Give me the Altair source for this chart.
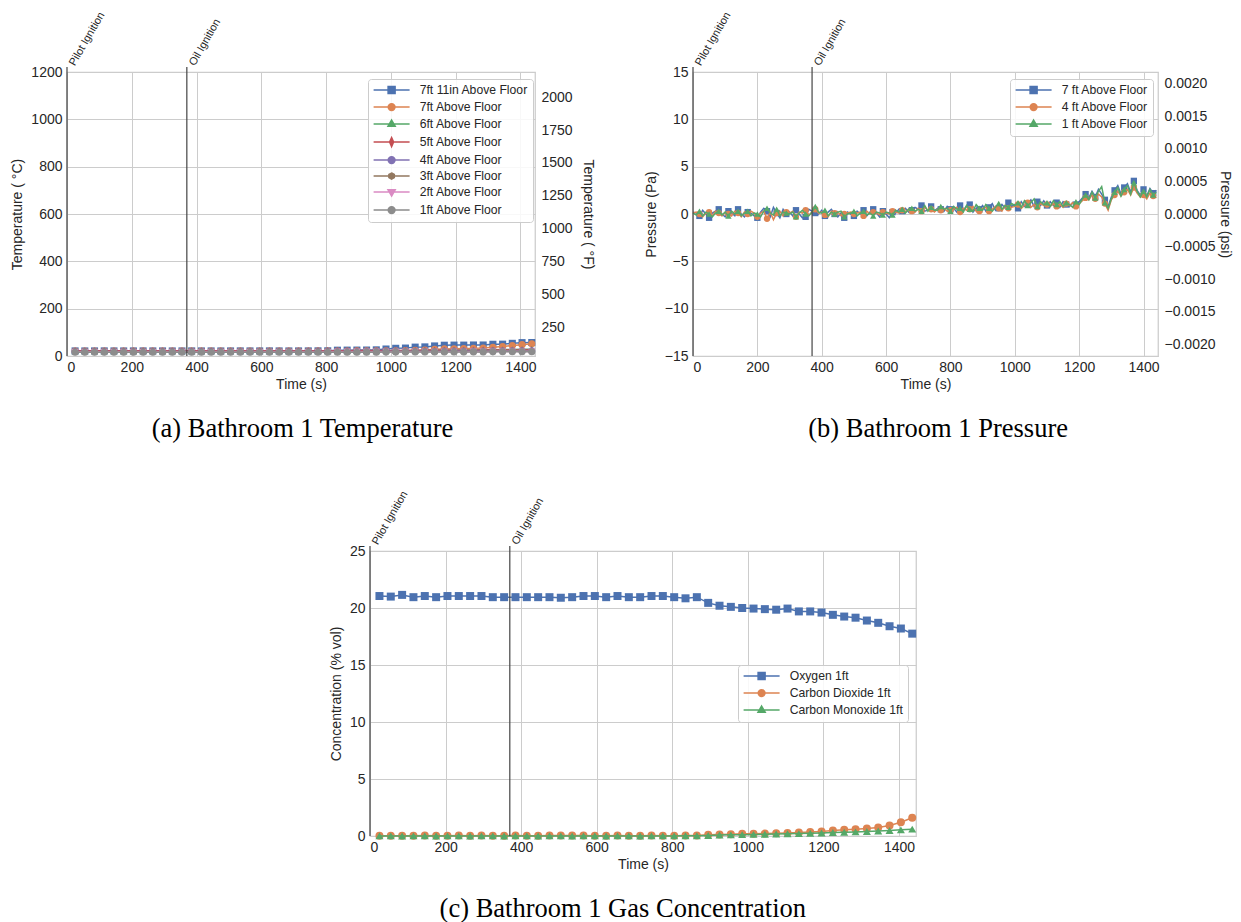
import altair as alt
import pandas as pd

FONT = "Liberation Sans"
SERIF = "Liberation Serif"
GRID = "#cccccc"
INK = "#262626"

PALETTE = ["#4C72B0", "#DD8452", "#55A868", "#C44E52", "#8172B3", "#937860", "#DA8BC3", "#8C8C8C"]

X_DOMAIN = [0, 1445]
X_TICKS = [0, 200, 400, 600, 800, 1000, 1200, 1400]
EVENT_TIMES = [0, 370]
EVENT_LABELS = ["Pilot Ignition", "Oil Ignition"]

# sample times of the plotted markers (s)
TIMES = [25, 55, 85, 115, 145, 175, 205, 235, 265, 295, 325, 355, 385, 415, 445, 475,
         505, 535, 565, 595, 625, 655, 685, 715, 745, 775, 805, 835, 865, 895, 925, 955,
         985, 1015, 1045, 1075, 1105, 1135, 1165, 1195, 1225, 1255, 1285, 1315, 1345,
         1375, 1405, 1435]

# ---------------- Temperature (deg C) ----------------
TEMP_NAMES = ["7ft 11in Above Floor", "7ft Above Floor", "6ft Above Floor", "5ft Above Floor",
              "4ft Above Floor", "3ft Above Floor", "2ft Above Floor", "1ft Above Floor"]
T_7FT11IN = [21.5, 21.4, 21.5, 21.6, 21.5, 21.4, 21.5, 21.6, 21.5, 21.5,
             21.4, 21.5, 21.6, 21.5, 21.5, 21.4, 21.5, 21.6, 21.5, 21.5,
             21.6, 21.5, 21.4, 21.5, 21.6, 21.8, 22.0, 24.5, 24.8, 25.0,
             25.2, 26.0, 29.5, 32.5, 33.5, 37.5, 38.5, 42.5, 45.5, 46.0,
             46.0, 46.5, 46.5, 49.5, 50.0, 53.5, 56.5, 57.0]
T_7FT = [21.0, 21.1, 21.0, 21.0, 21.1, 21.0, 21.0, 21.1, 21.0, 21.0,
         21.1, 21.0, 21.0, 21.1, 21.0, 21.0, 21.1, 21.0, 21.0, 21.1,
         21.0, 21.0, 21.1, 21.0, 21.1, 21.2, 21.3, 21.4, 21.5, 21.6,
         21.7, 21.8, 22.0, 22.5, 23.0, 24.0, 25.5, 28.0, 30.0, 31.0,
         32.0, 32.5, 34.0, 37.0, 40.0, 44.0, 48.0, 52.0]
T_6FT = [20.0, 20.1, 20.0, 20.0, 20.1, 20.0, 20.0, 20.1, 20.0, 20.0,
         20.1, 20.0, 20.0, 20.1, 20.0, 20.0, 20.1, 20.0, 20.0, 20.1,
         20.0, 20.0, 20.1, 20.0, 20.1, 20.2, 20.3, 20.4, 20.5, 20.6,
         20.7, 20.8, 21.0, 21.5, 22.0, 22.5, 23.0, 23.5, 24.0, 24.5,
         25.0, 25.5, 26.0, 26.5, 27.0, 27.5, 28.0, 29.0]
T_5FT = [22.5, 22.4, 22.5, 22.5, 22.4, 22.5, 22.5, 22.4, 22.5, 22.5,
         22.4, 22.5, 22.5, 22.4, 22.5, 22.5, 22.4, 22.5, 22.5, 22.4,
         22.5, 22.5, 22.4, 22.5, 22.5, 22.6, 22.6, 22.7, 22.7, 22.8,
         22.8, 22.9, 23.0, 23.2, 23.4, 23.6, 23.8, 24.0, 24.2, 24.4,
         24.6, 24.8, 25.0, 25.2, 25.4, 25.6, 25.8, 26.0]
T_4FT = [19.0, 19.1, 19.0, 19.0, 19.1, 19.0, 19.0, 19.1, 19.0, 19.0,
         19.1, 19.0, 19.0, 19.1, 19.0, 19.0, 19.1, 19.0, 19.0, 19.1,
         19.0, 19.0, 19.1, 19.0, 19.1, 19.1, 19.2, 19.2, 19.3, 19.3,
         19.4, 19.5, 19.6, 19.7, 19.9, 20.0, 20.2, 20.4, 20.6, 20.8,
         21.0, 21.2, 21.4, 21.6, 21.8, 22.0, 22.2, 22.4]
T_3FT = [18.0, 18.1, 18.0, 18.0, 18.1, 18.0, 18.0, 18.1, 18.0, 18.0,
         18.1, 18.0, 18.0, 18.1, 18.0, 18.0, 18.1, 18.0, 18.0, 18.1,
         18.0, 18.0, 18.1, 18.0, 18.1, 18.1, 18.1, 18.2, 18.2, 18.2,
         18.3, 18.3, 18.4, 18.5, 18.6, 18.7, 18.8, 18.9, 19.0, 19.1,
         19.2, 19.3, 19.4, 19.6, 19.7, 19.8, 19.9, 20.0]
T_2FT = [17.0, 17.1, 17.0, 17.0, 17.1, 17.0, 17.0, 17.1, 17.0, 17.0,
         17.1, 17.0, 17.0, 17.1, 17.0, 17.0, 17.1, 17.0, 17.0, 17.1,
         17.0, 17.0, 17.1, 17.0, 17.1, 17.1, 17.1, 17.2, 17.2, 17.2,
         17.3, 17.3, 17.4, 17.5, 17.6, 17.7, 17.8, 17.9, 18.0, 18.1,
         18.2, 18.3, 18.4, 18.5, 18.6, 18.7, 18.8, 19.0]
T_1FT = [16.0, 16.1, 16.0, 16.0, 16.1, 16.0, 16.0, 16.1, 16.0, 16.0,
         16.1, 16.0, 16.0, 16.1, 16.0, 16.0, 16.1, 16.0, 16.0, 16.1,
         16.0, 16.0, 16.1, 16.0, 16.1, 16.1, 16.1, 16.2, 16.2, 16.2,
         16.3, 16.3, 16.4, 16.5, 16.6, 16.7, 16.8, 16.9, 17.0, 17.1,
         17.2, 17.3, 17.4, 17.5, 17.6, 17.7, 17.8, 18.0]
C_DOMAIN = [0, 1200]
C_TICKS = [0, 200, 400, 600, 800, 1000, 1200]
F_DOMAIN = [32, 2192]
F_TICKS = [250, 500, 750, 1000, 1250, 1500, 1750, 2000]

# ---------------- Pressure (Pa) ----------------
P_TIMES = list(range(0, 1441, 10))
PRES_NAMES = ["7 ft Above Floor", "4 ft Above Floor", "1 ft Above Floor"]
P_7FT = [0.2, 0.1, -0.2, 0.4, 0.0, -0.4, 0.1, 0.3, 0.5, 0.0,
         -0.3, 0.3, 0.1, -0.2, 0.5, 0.0, -0.3, 0.2, 0.1, -0.2,
         -0.4, 0.2, 0.6, 0.3, -0.3, 0.7, 0.1, -0.4, 0.5, 0.0,
         0.2, -0.2, 0.4, 0.0, -0.4, -0.3, 0.5, 0.3, 0.1, 0.0,
         0.4, -0.2, 0.2, 0.5, 0.0, -0.3, 0.1, -0.4, 0.2, 0.0,
         -0.2, 0.3, 0.0, 0.4, -0.2, 0.2, 0.5, 0.1, -0.3, 0.3,
         0.0, -0.4, 0.2, 0.1, 0.5, 0.3, 0.6, 0.2, 0.4, 0.7,
         0.5, 0.9, 0.3, 0.4, 0.8, 0.3, 0.6, 0.5, 0.3, 0.8,
         0.5, 0.6, 0.2, 0.9, 0.4, 0.8, 1.0, 0.2, 0.6, 0.5,
         0.9, 0.3, 0.7, 1.1, 0.4, 0.6, 1.0, 0.6, 1.2, 0.8,
         1.0, 0.6, 1.3, 0.8, 1.1, 1.5, 0.8, 1.3, 0.9, 1.4,
         0.9, 1.3, 0.9, 1.2, 0.7, 1.3, 1.0, 0.8, 1.2, 1.0,
         1.3, 1.7, 2.1, 1.7, 2.4, 1.8, 2.6, 2.1, 1.5, 0.8,
         1.8, 2.5, 3.0, 2.1, 2.8, 3.2, 2.3, 3.5, 2.5, 2.0,
         2.6, 1.9, 2.7, 2.2, 2.5]
P_4FT = [0.1, 0.2, 0.0, -0.3, 0.1, 0.2, -0.2, 0.3, 0.1, -0.2,
         0.2, 0.0, -0.2, 0.3, 0.1, -0.3, 0.2, 0.0, 0.3, 0.1,
         -0.3, 0.1, 0.3, -0.5, 0.2, -0.6, 0.1, 0.3, -0.2, 0.2,
         0.1, 0.3, -0.3, 0.2, 0.1, 0.4, -0.1, 0.2, 0.5, 0.1,
         0.2, -0.1, -0.3, 0.3, 0.1, 0.2, -0.2, 0.0, 0.1, 0.2,
         0.0, 0.1, 0.2, -0.2, 0.3, 0.0, 0.2, 0.1, -0.1, 0.2,
         0.1, 0.0, 0.3, 0.2, 0.1, 0.4, 0.2, 0.5, 0.3, 0.2,
         0.6, 0.3, 0.7, 0.4, 0.5, 0.2, 0.5, 0.4, 0.6, 0.3,
         0.4, 0.5, 0.7, 0.2, 0.6, 0.4, 0.5, 0.8, 0.3, 0.3,
         0.6, 0.7, 0.3, 0.5, 0.8, 0.6, 0.3, 0.9, 0.6, 0.7,
         0.8, 1.0, 0.6, 0.9, 1.2, 0.7, 1.0, 0.7, 1.1, 0.9,
         1.0, 0.8, 1.1, 0.8, 1.0, 0.7, 1.1, 0.9, 1.2, 0.8,
         1.1, 1.4, 1.7, 1.5, 2.0, 1.6, 2.1, 1.8, 1.1, 0.4,
         1.5, 2.0, 2.4, 1.9, 2.3, 2.6, 2.0, 2.8, 2.2, 1.8,
         2.0, 1.6, 2.2, 1.9, 1.7]
P_1FT = [0.1, -0.1, 0.3, -0.2, 0.2, 0.0, -0.3, 0.1, 0.3, -0.1,
         0.2, -0.2, 0.3, 0.0, 0.3, -0.2, 0.1, 0.3, -0.2, 0.1,
         0.0, -0.3, 0.3, 0.6, 0.1, -0.1, 0.5, -0.2, 0.2, 0.1,
         0.0, 0.2, -0.3, 0.1, 0.4, 0.0, -0.2, 0.2, 0.8, 0.2,
         0.1, 0.4, -0.2, 0.2, 0.0, 0.2, 0.3, -0.3, 0.0, 0.1,
         0.3, -0.2, 0.1, 0.3, -0.1, 0.1, -0.2, 0.2, 0.1, -0.1,
         0.2, 0.1, -0.1, 0.4, 0.2, 0.5, 0.1, 0.5, 0.6, 0.3,
         0.5, 0.3, 0.9, 0.3, 0.7, 0.4, 0.4, 0.8, 0.5, 0.6,
         0.3, 0.8, 0.5, 0.6, 0.2, 0.9, 0.5, 0.3, 1.0, 0.6,
         0.4, 1.0, 0.6, 0.3, 0.7, 1.1, 0.5, 0.9, 0.7, 1.1,
         0.9, 1.2, 0.7, 1.4, 0.9, 1.2, 1.6, 0.8, 1.3, 1.0,
         1.2, 0.8, 1.4, 1.0, 1.3, 0.8, 1.2, 1.0, 0.7, 1.3,
         1.0, 1.6, 2.0, 1.5, 2.3, 1.7, 2.4, 2.9, 1.2, 0.6,
         1.6, 2.3, 2.8, 1.9, 2.6, 3.0, 2.1, 3.3, 2.4, 1.8,
         2.4, 1.8, 2.6, 2.0, 2.3]
PA_DOMAIN = [-15, 15]
PA_TICKS = [-15, -10, -5, 0, 5, 10, 15]
PSI_DOMAIN = [-0.0021756, 0.0021756]
PSI_TICKS = [-0.002, -0.0015, -0.001, -0.0005, 0.0, 0.0005, 0.001, 0.0015, 0.002]

# ---------------- Gas concentration (% vol) ----------------
GAS_NAMES = ["Oxygen 1ft", "Carbon Dioxide 1ft", "Carbon Monoxide 1ft"]
GAS_O2 = [21.05, 21.0, 21.15, 20.95, 21.05, 20.95, 21.05, 21.05, 21.05, 21.05,
          20.95, 20.95, 20.95, 20.95, 20.95, 20.95, 20.9, 20.95, 21.05, 21.05,
          20.95, 21.05, 20.95, 20.95, 21.05, 21.05, 20.95, 20.85, 20.95, 20.45,
          20.2, 20.1, 20.0, 19.95, 19.9, 19.85, 19.95, 19.7, 19.7, 19.6,
          19.4, 19.25, 19.15, 18.9, 18.7, 18.4, 18.2, 17.75]
GAS_CO2 = [0.03, 0.02, 0.03, 0.03, 0.04, 0.03, 0.03, 0.04, 0.03, 0.04,
           0.03, 0.03, 0.04, 0.03, 0.03, 0.04, 0.05, 0.04, 0.04, 0.03,
           0.03, 0.04, 0.03, 0.03, 0.04, 0.03, 0.03, 0.04, 0.05, 0.10,
           0.14, 0.16, 0.19, 0.20, 0.21, 0.24, 0.26, 0.30, 0.35, 0.40,
           0.48, 0.55, 0.60, 0.65, 0.75, 0.92, 1.20, 1.60]
GAS_CO = [0.01, 0.01, 0.00, 0.01, 0.01, 0.00, 0.01, 0.01, 0.00, 0.01,
          0.01, 0.00, 0.01, 0.01, 0.00, 0.01, 0.01, 0.00, 0.01, 0.01,
          0.00, 0.01, 0.01, 0.00, 0.01, 0.01, 0.01, 0.02, 0.02, 0.05,
          0.08, 0.10, 0.12, 0.14, 0.15, 0.17, 0.19, 0.21, 0.24, 0.27,
          0.30, 0.33, 0.36, 0.40, 0.44, 0.48, 0.54, 0.60]
GAS_DOMAIN = [0, 25]
GAS_TICKS = [0, 5, 10, 15, 20, 25]

# marker shapes (chart) and line+marker symbols (legend)
THIN_DIAMOND = "M0,-1L0.6,0L0,1L-0.6,0Z"
HEXAGON = "M0,-1L0.87,-0.5L0.87,0.5L0,1L-0.87,0.5L-0.87,-0.5Z"
MARKERS = ["square", "circle", "triangle-up", THIN_DIAMOND, "circle", HEXAGON, "triangle-down", "circle"]
LEG_LINE = "M-3.6,0H3.6"
LEG_CIRCLE = "M0.68,0A0.68,0.68,0,1,1,-0.68,0A0.68,0.68,0,1,1,0.68,0Z"
LEG_SYMBOLS = [
    LEG_LINE + "M-0.7,-0.7H0.7V0.7H-0.7Z",
    LEG_LINE + LEG_CIRCLE,
    LEG_LINE + "M0,-0.8L0.72,0.45L-0.72,0.45Z",
    LEG_LINE + "M0,-0.9L0.4,0L0,0.9L-0.4,0Z",
    LEG_LINE + LEG_CIRCLE,
    LEG_LINE + "M0,-0.62L0.54,-0.31L0.54,0.31L0,0.62L-0.54,0.31L-0.54,-0.31Z",
    LEG_LINE + "M0,0.8L0.72,-0.45L-0.72,-0.45Z",
    LEG_LINE + LEG_CIRCLE,
]


def panel(field, names, series, times, marker_step, ydom, yticks, ytitle, w, h,
          leg_x, leg_y, caption, msize, yfmt=None, right=None):
    X = alt.X("t:Q", scale=alt.Scale(domain=X_DOMAIN, nice=False, zero=False),
              axis=alt.Axis(title="Time (s)", values=X_TICKS, format="d",
                            labelPadding=4, titlePadding=3))
    yaxis = dict(title=ytitle, values=yticks, labelPadding=5, titlePadding=6)
    if yfmt:
        yaxis["format"] = yfmt
    Y = alt.Y("v:Q", scale=alt.Scale(domain=ydom, nice=False, zero=False), axis=alt.Axis(**yaxis))
    n = len(names)
    layers = []
    for name, vals, color, shape in zip(names, series, PALETTE[:n], MARKERS[:n]):
        df = pd.DataFrame({"t": times, "v": vals,
                           "m": [i % marker_step == marker_step - 1 for i in range(len(times))]})
        layers.append(alt.Chart(df).mark_line(color=color, strokeWidth=1.5).encode(x=X, y=Y))
        layers.append(alt.Chart(df).transform_filter("datum.m").mark_point(
            shape=shape, filled=True, color=color, size=msize, opacity=1).encode(x=X, y=Y))
    ev = pd.DataFrame({"t": EVENT_TIMES, "label": EVENT_LABELS})
    layers.append(alt.Chart(ev).mark_rule(color="#444444", strokeWidth=1.2).encode(
        x=X, y=alt.value(-5), y2=alt.value("height")))
    layers.append(alt.Chart(ev).mark_text(angle=300, align="left", baseline="top", fontSize=11,
                                          font=FONT, color=INK).encode(
        x=X, y=alt.value(-10), text="label:N"))
    leg = alt.Legend(title=None, orient="none", legendX=leg_x, legendY=leg_y,
                     symbolSize=100, symbolStrokeWidth=1.5, symbolOpacity=1,
                     symbolOffset=12.5, labelOffset=22,
                     labelFont=FONT, labelFontSize=12.2, labelColor=INK,
                     rowPadding=3, padding=5, fillColor="rgba(255,255,255,0.85)",
                     strokeColor="#cccccc", cornerRadius=3)
    legdf = pd.DataFrame({field: names})
    layers.append(alt.Chart(legdf).mark_point(filled=True, size=100, strokeWidth=1.5, opacity=1,
                                              clip=True).encode(
        x=alt.value(-2000), y=alt.value(-2000),
        fill=alt.Fill(f"{field}:N", scale=alt.Scale(domain=names, range=PALETTE[:n]), legend=leg),
        stroke=alt.Stroke(f"{field}:N", scale=alt.Scale(domain=names, range=PALETTE[:n]), legend=leg),
        shape=alt.Shape(f"{field}:N", scale=alt.Scale(domain=names, range=LEG_SYMBOLS[:n]), legend=leg)))
    inner = alt.layer(*layers)
    if right is not None:
        rdom, rticks, rtitle, rfmt, rtpad = right
        rdf = pd.DataFrame({"r": rdom})
        rl = alt.Chart(rdf).mark_point(opacity=0).encode(
            y=alt.Y("r:Q", scale=alt.Scale(domain=rdom, nice=False, zero=False),
                    axis=alt.Axis(orient="right", title=rtitle, values=rticks, grid=False,
                                  format=rfmt, labelPadding=6, titlePadding=rtpad)))
        chart = alt.layer(inner, rl).resolve_scale(y="independent")
    else:
        chart = inner
    return chart.properties(
        width=w, height=h,
        title=alt.TitleParams(caption, orient="bottom", font=SERIF, fontSize=26.5,
                              fontWeight="normal", color="black", offset=25,
                              anchor="middle", frame="bounds"))


temp = panel("tser", TEMP_NAMES, [T_7FT11IN, T_7FT, T_6FT, T_5FT, T_4FT, T_3FT, T_2FT, T_1FT],
             TIMES, 1, C_DOMAIN, C_TICKS, "Temperature ( °C)", 468, 284, 301, 7,
             "(a) Bathroom 1 Temperature", 50, yfmt="d",
             right=(F_DOMAIN, F_TICKS, "Temperature ( °F)", "d", 8))
pres = panel("pser", PRES_NAMES, [P_7FT, P_4FT, P_1FT], P_TIMES, 3, PA_DOMAIN, PA_TICKS,
             "Pressure (Pa)", 465, 284, 317, 7, "(b) Bathroom 1 Pressure", 40,
             right=(PSI_DOMAIN, PSI_TICKS, "Pressure (psi)", ".4f", 3))
gas = panel("gser", GAS_NAMES, [GAS_O2, GAS_CO2, GAS_CO], TIMES, 1, GAS_DOMAIN, GAS_TICKS,
            "Concentration (% vol)", 546, 285, 368, 114, "(c) Bathroom 1 Gas Concentration", 64)

# empty spacer that shifts the third panel to the middle of the page
spacer = alt.Chart(pd.DataFrame({"s": [0]})).mark_point(opacity=0).encode(
    x=alt.value(0), y=alt.value(0)
).properties(width=260, height=10, view=alt.ViewBackground(stroke="transparent"))

indep = dict(fill="independent", stroke="independent", shape="independent")
row1 = alt.hconcat(temp, pres, spacing=48).resolve_scale(**indep).resolve_legend(**indep)
row2 = alt.hconcat(spacer, gas, spacing=0).resolve_scale(**indep).resolve_legend(**indep)
chart = alt.vconcat(row1, row2, spacing=44).resolve_scale(**indep).resolve_legend(**indep)

chart = chart.properties(padding={"left": 10, "top": 9, "right": 8, "bottom": 0}).configure(
    font=FONT
).configure_view(stroke=GRID, strokeWidth=1.25).configure_axis(
    labelFont=FONT, titleFont=FONT, labelFontSize=14, titleFontSize=14,
    labelColor=INK, titleColor=INK, titleFontWeight="normal",
    gridColor=GRID, gridWidth=1, domain=False, ticks=False
)

chart.save("out.html", embed_options={"renderer": "svg", "actions": False})
